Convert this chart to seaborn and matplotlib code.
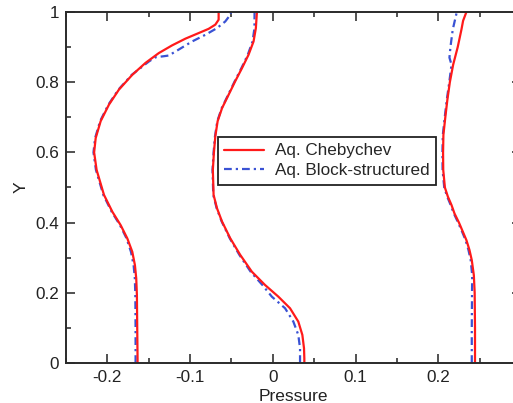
import matplotlib
matplotlib.use("Agg")
import matplotlib.pyplot as plt
import seaborn as sns
from matplotlib.ticker import MultipleLocator

# ---- data ----
y_c1_cheb = [0.0, 0.013, 0.099, 0.194, 0.241, 0.279, 0.317, 0.355, 0.393, 0.431, 0.479,
             0.55, 0.6, 0.641, 0.689, 0.736, 0.779, 0.821, 0.855, 0.883, 0.905, 0.924,
             0.940, 0.952, 0.964, 0.978, 1.0]
p_c1_cheb = [-0.1635, -0.1635, -0.1639, -0.1643, -0.1651, -0.1667, -0.1699, -0.1759, -0.1840,
             -0.1940, -0.2041, -0.2130, -0.2160, -0.2141, -0.2081, -0.1981, -0.1860, -0.1699,
             -0.1539, -0.1378, -0.1217, -0.1057, -0.0896, -0.0776, -0.0695, -0.0655, -0.0655]

y_c1_block = [0.0, 0.013, 0.099, 0.194, 0.241, 0.279, 0.317, 0.355, 0.393, 0.431, 0.479,
              0.55, 0.6, 0.641, 0.689, 0.736, 0.779, 0.821, 0.859, 0.871, 0.874, 0.876,
              0.893, 0.916, 0.935, 0.954, 0.973, 0.992, 1.0]
p_c1_block = [-0.1659, -0.1659, -0.1659, -0.1662, -0.1668, -0.1683, -0.1715, -0.1768, -0.1848,
              -0.1948, -0.2049, -0.2138, -0.2168, -0.2148, -0.2088, -0.1988, -0.1866, -0.1705,
              -0.1498, -0.1418, -0.1318, -0.1258, -0.1137, -0.0976, -0.0816, -0.0675, -0.0575,
              -0.0514, -0.0505]

y_c2_cheb = [0.0, 0.013, 0.042, 0.080, 0.118, 0.156, 0.189, 0.222, 0.260, 0.308, 0.355,
             0.403, 0.441, 0.479, 0.55, 0.6, 0.646, 0.689, 0.726, 0.764, 0.803, 0.840,
             0.878, 0.916, 0.954, 0.997, 1.0]
p_c2_cheb = [0.0381, 0.0381, 0.0377, 0.0357, 0.0308, 0.0208, 0.0067, -0.0093, -0.0253,
             -0.0394, -0.0514, -0.0614, -0.0675, -0.0716, -0.0725, -0.0712, -0.0695, -0.0667,
             -0.0614, -0.0535, -0.0454, -0.0373, -0.0294, -0.0233, -0.0205, -0.0193, -0.0193]

y_c2_block = [0.0, 0.013, 0.042, 0.080, 0.118, 0.156, 0.189, 0.222, 0.260, 0.308, 0.355,
              0.403, 0.441, 0.479, 0.55, 0.6, 0.646, 0.689, 0.726, 0.764, 0.803, 0.840,
              0.878, 0.916, 0.954, 0.997, 1.0]
p_c2_block = [0.0329, 0.0329, 0.0329, 0.0308, 0.0248, 0.0148, -0.0012, -0.0125, -0.0268,
              -0.0404, -0.0520, -0.0618, -0.0679, -0.0720, -0.0729, -0.0716, -0.0699, -0.0671,
              -0.0618, -0.0540, -0.0460, -0.0380, -0.0303, -0.0245, -0.0222, -0.0221, -0.0221]

y_c3_cheb = [0.0, 0.1, 0.2, 0.25, 0.293, 0.322, 0.35, 0.374, 0.4, 0.426, 0.45, 0.474, 0.5,
             0.55, 0.6, 0.65, 0.7, 0.75, 0.8, 0.85, 0.9, 0.95, 0.975, 1.0]
p_c3_cheb = [0.2444, 0.2444, 0.2440, 0.2430, 0.2405, 0.2377, 0.2340, 0.2297, 0.2250, 0.2196,
             0.2160, 0.2116, 0.2080, 0.2060, 0.2058, 0.2062, 0.2085, 0.2110, 0.2140, 0.2180,
             0.2235, 0.2280, 0.2300, 0.2340]

y_c3_block = [0.0, 0.1, 0.2, 0.25, 0.293, 0.322, 0.35, 0.374, 0.4, 0.426, 0.45, 0.474, 0.5,
              0.55, 0.6, 0.65, 0.7, 0.75, 0.8, 0.85, 0.87, 0.9, 0.95, 1.0]
p_c3_block = [0.2405, 0.2405, 0.2408, 0.2410, 0.2392, 0.2365, 0.2330, 0.2288, 0.2240, 0.2188,
              0.2150, 0.2108, 0.2072, 0.2052, 0.2050, 0.2055, 0.2078, 0.2103, 0.2133, 0.2160,
              0.2135, 0.2147, 0.2175, 0.2224]

labels = ["Aq. Chebychev", "Aq. Block-structured"]
x_ticks = [-0.2, -0.1, 0, 0.1, 0.2]
x_tick_labels = ["-0.2", "-0.1", "0", "0.1", "0.2"]
y_ticks = [0, 0.2, 0.4, 0.6, 0.8, 1]
y_tick_labels = ["0", "0.2", "0.4", "0.6", "0.8", "1"]

# ---- style ----
sns.set_style("ticks")
plt.rcParams["font.family"] = ["Liberation Sans", "DejaVu Sans"]
plt.rcParams["axes.unicode_minus"] = False

RED = "#ff1a1a"
BLUE = "#3a52d4"
dashdot = (0, (3.5, 1.8, 1.0, 1.8))

fig = plt.figure(figsize=(5.13, 4.03), dpi=100)
W, H = 513, 403
left_px, right_px, top_px, bottom_px = 66, 521, 12, 363
ax = fig.add_axes([left_px / W, 1 - bottom_px / H,
                   (right_px - left_px) / W, (bottom_px - top_px) / H])

series = [
    (p_c1_cheb, y_c1_cheb, RED, "-", labels[0]),
    (p_c1_block, y_c1_block, BLUE, dashdot, labels[1]),
    (p_c2_cheb, y_c2_cheb, RED, "-", None),
    (p_c2_block, y_c2_block, BLUE, dashdot, None),
    (p_c3_cheb, y_c3_cheb, RED, "-", None),
    (p_c3_block, y_c3_block, BLUE, dashdot, None),
]
# draw block-structured first so the red line sits on top
order = [1, 3, 5, 0, 2, 4]
for i in order:
    px, py, col, ls, lab = series[i]
    sns.lineplot(x=px, y=py, sort=False, estimator=None, color=col, ax=ax,
                 linewidth=1.6, linestyle=ls, label=lab)

ax.set_xlim(-0.25, 0.3)
ax.set_ylim(0, 1)
ax.set_xticks(x_ticks)
ax.set_xticklabels(x_tick_labels)
ax.set_yticks(y_ticks)
ax.set_yticklabels(y_tick_labels)
ax.xaxis.set_minor_locator(MultipleLocator(0.05))
ax.yaxis.set_minor_locator(MultipleLocator(0.1))
ax.tick_params(which="both", direction="in", top=True, right=True,
               colors="#333333", labelcolor="#222222", labelsize=12.3, width=1.2)
ax.tick_params(which="major", length=6.5, pad=5)
ax.tick_params(which="minor", length=3.5)
for s in ax.spines.values():
    s.set_linewidth(1.4)
    s.set_color("#2a2a2a")
    s.set_visible(True)

ax.set_xlabel("Pressure", fontsize=12.5, color="#222222", labelpad=3)
ax.set_ylabel("Y", fontsize=12.5, color="#222222", labelpad=5)

handles, labs = ax.get_legend_handles_labels()
hmap = dict(zip(labs, handles))
leg = ax.legend([hmap[labels[0]], hmap[labels[1]]], labels,
                loc="upper left",
                bbox_to_anchor=(218 / W, 1 - 137 / H),
                bbox_transform=fig.transFigure,
                fontsize=12.3, frameon=True, fancybox=False, framealpha=1,
                edgecolor="#222222", handlelength=2.3, handletextpad=0.65,
                borderpad=0.38, labelspacing=0.28, borderaxespad=0)
leg.get_frame().set_linewidth(1.3)

fig.savefig("out.png", dpi=100)
